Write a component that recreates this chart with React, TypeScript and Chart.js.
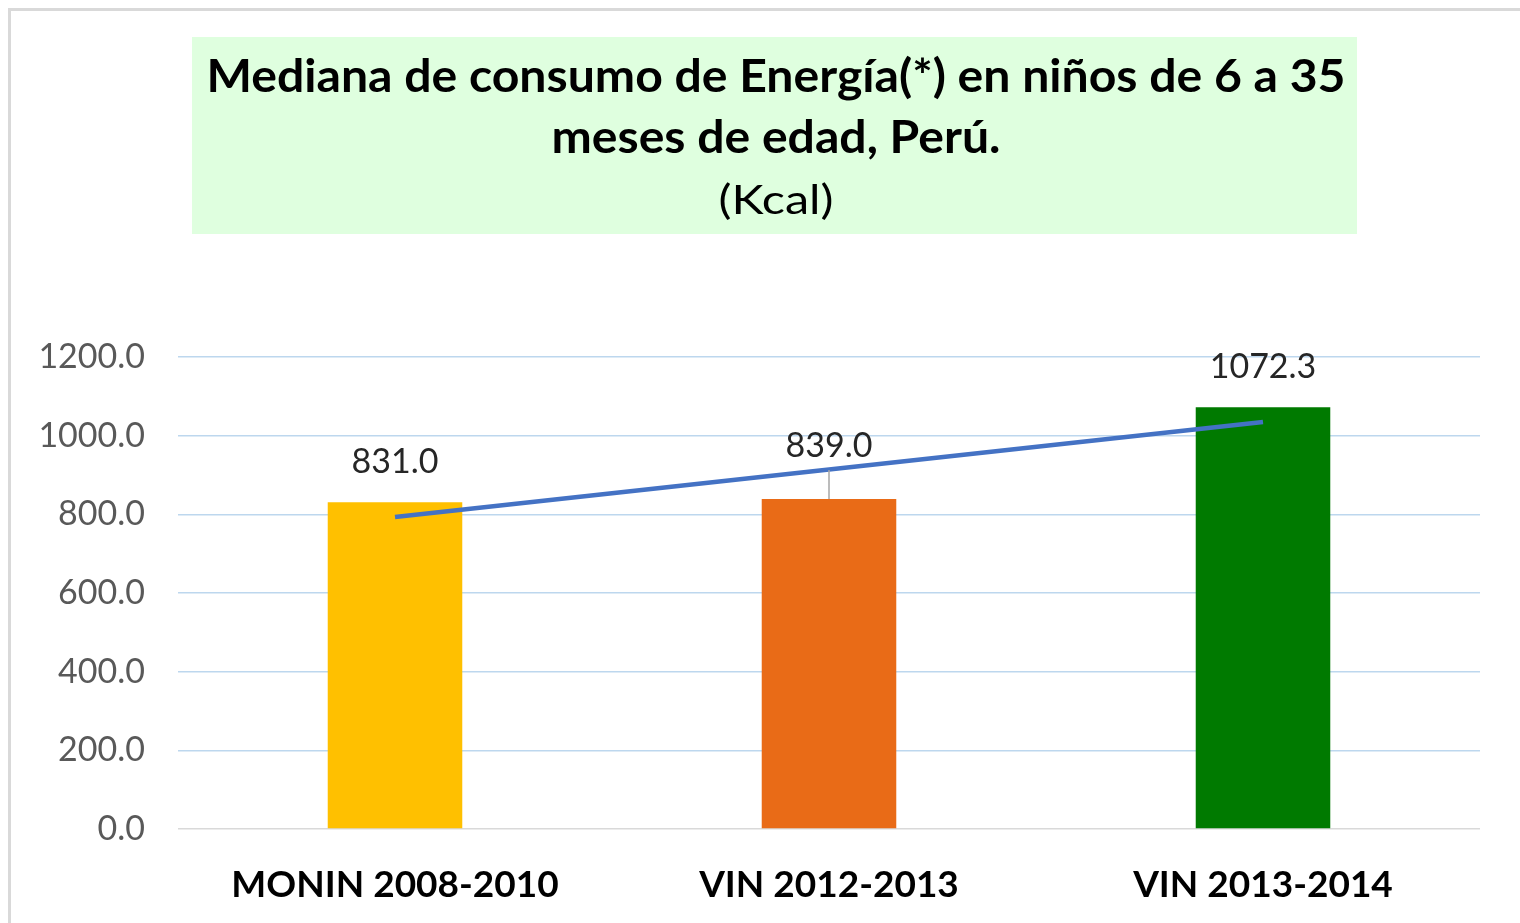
import React, { useEffect, useRef } from "react";
import { Chart, registerables } from "chart.js";

Chart.register(...registerables);

const categories = ["MONIN 2008-2010", "VIN 2012-2013", "VIN 2013-2014"];
const medianKcal = [831.0, 839.0, 1072.3];
const trendValues = [793.4, 914.1, 1034.8];
const yTicks = [0, 200, 400, 600, 800, 1000, 1200];
const barColors = ["#FFC000", "#E96B17", "#007A00"];
const titleLines = [
  "Mediana de consumo de Energía(*) en niños de 6 a 35",
  "meses de edad, Perú.",
  "(Kcal)",
];

const decorPlugin = {
  id: "decor",
  beforeDraw(chart: any) {
    const ctx = chart.ctx;
    ctx.save();
    ctx.strokeStyle = "#d9d9d9";
    ctx.lineWidth = 3;
    ctx.strokeRect(9.5, 9.5, 1700, 1100);
    ctx.fillStyle = "#dfffdf";
    ctx.fillRect(192, 37, 1165, 197);
    const specs = [
      { text: titleLines[0], font: "bold 46px Lato", y: 92, w: 1139 },
      { text: titleLines[1], font: "bold 46px Lato", y: 153, w: 449 },
      { text: titleLines[2], font: "40px Lato", y: 214, w: 115 },
    ];
    ctx.fillStyle = "#000000";
    ctx.textBaseline = "alphabetic";
    ctx.textAlign = "center";
    for (const s of specs) {
      ctx.font = s.font;
      const m = ctx.measureText(s.text).width;
      ctx.save();
      ctx.translate(776, s.y);
      ctx.scale(s.w / m, 1);
      ctx.fillText(s.text, 0, 0);
      ctx.restore();
    }
    ctx.restore();
  },
  afterDatasetsDraw(chart: any) {
    const ctx = chart.ctx;
    const meta = chart.getDatasetMeta(1);
    const offsets = [40, 53, 40];
    ctx.save();
    ctx.font = "34px Lato";
    ctx.fillStyle = "#262626";
    ctx.textAlign = "center";
    ctx.textBaseline = "middle";
    meta.data.forEach((bar: any, i: number) => {
      const v = medianKcal[i];
      const ly = bar.y - offsets[i];
      if (offsets[i] > 45) {
        ctx.strokeStyle = "#a6a6a6";
        ctx.lineWidth = 1.5;
        ctx.beginPath();
        ctx.moveTo(bar.x, ly + 24);
        ctx.lineTo(bar.x, bar.y);
        ctx.stroke();
      }
      ctx.fillText(v.toFixed(1), bar.x, ly);
    });
    ctx.restore();
  },
};

export default function App() {
  const ref = useRef<HTMLCanvasElement>(null);
  useEffect(() => {
    if (!ref.current) return;
    const chart = new Chart(ref.current, {
      type: "bar",
      data: {
        labels: categories,
        datasets: [
          {
            type: "line",
            label: "Tendencia",
            data: trendValues,
            borderColor: "#4472C4",
            borderWidth: 4.5,
            pointRadius: 0,
            fill: false,
            order: 0,
          } as any,
          {
            type: "bar",
            label: "Mediana",
            data: medianKcal,
            backgroundColor: barColors,
            borderWidth: 0,
            barPercentage: 0.31,
            categoryPercentage: 1,
            order: 1,
          },
        ],
      },
      options: {
        responsive: false,
        animation: false,
        layout: { padding: { top: 357, right: 40, bottom: 0, left: 0 } },
        plugins: {
          legend: { display: false },
          title: { display: false },
          tooltip: { enabled: false },
        },
        scales: {
          x: {
            grid: { display: false },
            border: { display: false },
            ticks: {
              color: "#000000",
              font: { family: "Lato", size: 37, weight: "bold" },
              padding: 26,
              maxRotation: 0,
            },
            afterFit(scale: any) {
              scale.height = 94;
            },
          },
          y: {
            min: 0,
            max: 1200,
            afterBuildTicks(scale: any) {
              scale.ticks = yTicks.map((v) => ({ value: v }));
            },
            grid: {
              color: (c: any) => (c.tick && c.tick.value === 0 ? "#d9d9d9" : "#bdd7ee"),
              lineWidth: 1.5,
              drawTicks: false,
            },
            border: { display: false },
            ticks: {
              color: "#595959",
              font: { family: "Lato", size: 34 },
              padding: 33,
              callback: (v: any) => Number(v).toFixed(1),
            },
            afterFit(scale: any) {
              scale.width = 178;
            },
          },
        },
      },
      plugins: [decorPlugin],
    });
    return () => chart.destroy();
  }, []);
  return (
    <div style={{ position: "absolute", left: 0, top: 0, width: 1520, height: 923, background: "#fff" }}>
      <canvas ref={ref} width={1520} height={923} style={{ display: "block" }} />
    </div>
  );
}
